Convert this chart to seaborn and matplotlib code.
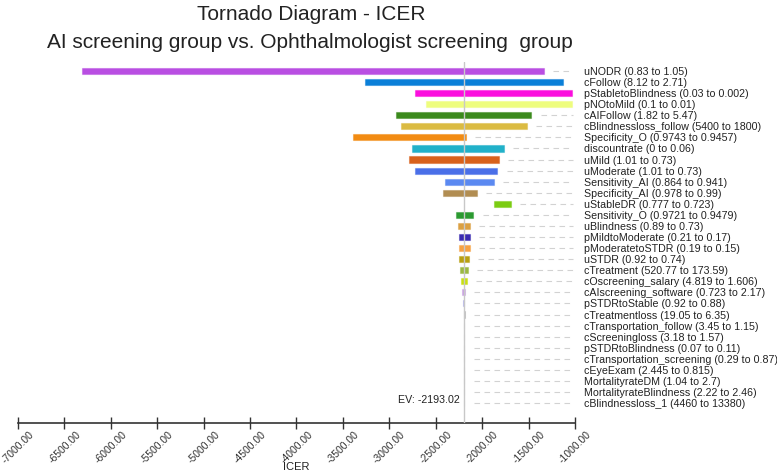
import numpy as np
import pandas as pd
import matplotlib
matplotlib.use('Agg')
import matplotlib.pyplot as plt
import seaborn as sns

# parameters, their ranges and the ICER span each one produces
params = ['uNODR', 'cFollow', 'pStabletoBlindness', 'pNOtoMild', 'cAIFollow',
          'cBlindnessloss_follow', 'Specificity_O', 'discountrate', 'uMild', 'uModerate',
          'Sensitivity_AI', 'Specificity_AI', 'uStableDR', 'Sensitivity_O', 'uBlindness',
          'pMildtoModerate', 'pModeratetoSTDR', 'uSTDR', 'cTreatment', 'cOscreening_salary',
          'cAIscreening_software', 'pSTDRtoStable', 'cTreatmentloss', 'cTransportation_follow',
          'cScreeningloss', 'pSTDRtoBlindness', 'cTransportation_screening', 'cEyeExam',
          'MortalityrateDM', 'MortalityrateBlindness', 'cBlindnessloss_1']
ranges = ['0.83 to 1.05', '8.12 to 2.71', '0.03 to 0.002', '0.1 to 0.01', '1.82 to 5.47',
          '5400 to 1800', '0.9743 to 0.9457', '0 to 0.06', '1.01 to 0.73', '1.01 to 0.73',
          '0.864 to 0.941', '0.978 to 0.99', '0.777 to 0.723', '0.9721 to 0.9479', '0.89 to 0.73',
          '0.21 to 0.17', '0.19 to 0.15', '0.92 to 0.74', '520.77 to 173.59', '4.819 to 1.606',
          '0.723 to 2.17', '0.92 to 0.88', '19.05 to 6.35', '3.45 to 1.15', '3.18 to 1.57',
          '0.07 to 0.11', '0.29 to 0.87', '2.445 to 0.815', '1.04 to 2.7', '2.22 to 2.46',
          '4460 to 13380']
icer_min = [-6311, -3265, -2719, -2605, -2924, -2874, -3394, -2759, -2788, -2723,
            -2396, -2425, -1873, -2278, -2260, -2253, -2250, -2250, -2239, -2232,
            -2213, -2207, -2198, -2194, -2194, -2194, -2194, -2194, -2194, -2194, -2194]
icer_max = [-1338, -1126, -1037, -1037, -1470, -1521, -2174, -1769, -1819, -1836,
            -1876, -2056, -1693, -2095, -2135, -2135, -2135, -2142, -2153, -2164,
            -2185, -2192, -2190, -2192, -2192, -2192, -2192, -2192, -2192, -2192, -2192]
colors = ['#b94ee2', '#0b7fd8', '#fb0ede', '#eefd7e', '#3b8a1c',
          '#dbbb42', '#f28b12', '#21b1c9', '#d8611b', '#4a6fe8',
          '#5b89f1', '#b18d52', '#7bcc12', '#2b9a31', '#dba042',
          '#3a2bb1', '#f7a243', '#b8a012', '#9bb942', '#c9e012',
          '#c9a1e2', '#a9a9e8', '#b0b0b0', '#c0c0c0', '#c0c0c0',
          '#c0c0c0', '#c0c0c0', '#c0c0c0', '#c0c0c0', '#c0c0c0', '#c0c0c0']
ev = -2193.02
xticks = np.arange(-7000, -999, 500)

df = pd.DataFrame({'param': params, 'lo': icer_min, 'hi': icer_max})
df['span'] = df['hi'] - df['lo']

sns.set_theme(style='white')
plt.rcParams['font.family'] = ['Liberation Sans', 'DejaVu Sans']

fig = plt.figure(figsize=(7.77, 4.77), dpi=100)
ax = fig.add_axes([18 / 777, 53 / 477, 557 / 777, 361 / 477])

sns.barplot(data=df, x='span', y='param', hue='param', palette=dict(zip(params, colors)),
            order=params, hue_order=params, width=0.55, legend=False, ax=ax,
            linewidth=0.8, zorder=2)

# move each bar to start at its low ICER value
for p in ax.patches:
    i = int(round(p.get_y() + p.get_height() / 2))
    p.set_x(df['lo'][i])
    c = matplotlib.colors.to_rgba(colors[i])
    p.set_edgecolor((*c[:3], 0.45))
    p.set_facecolor(c)

ax.axvline(ev, color='#c8c8c8', lw=1.0, zorder=3)

for i, (name, rng) in enumerate(zip(params, ranges)):
    start = max(df['hi'][i], ev) + 100
    if start < -1020:
        ax.hlines(i, start, -1020, colors='#d2d2d2', linestyles=(0, (5, 4)), lw=0.8, zorder=1)
    ax.text(-905, i, f'{name} ({rng})', va='center', ha='left', fontsize=7.7,
            color='#222222', clip_on=False)

ax.text(ev - 45, len(params) - 1.4, f'EV: {ev:.2f}', ha='right', va='center',
        fontsize=7.7, color='#222222')

ax.set_xlim(-7000, -1000)
ax.set_ylim(31.8, -0.81)
ax.set_xticks(xticks)
ax.set_xticklabels([f'{v:.2f}' for v in xticks], rotation=45, fontsize=7.5, color='#333333')
ax.set_yticks([])
ax.set_ylabel('')
ax.set_xlabel('')
ax.tick_params(axis='x', direction='inout', length=8, width=1, color='#333333', pad=0,
               bottom=True)
sns.despine(ax=ax, left=True, top=True, right=True)
ax.spines['bottom'].set_color('#333333')
ax.spines['bottom'].set_linewidth(1.2)

fig.text(296 / 777, 1 - 467 / 477, 'ICER', ha='center', va='center', fontsize=8, color='#222222')
fig.text(311 / 777, 1 - 15 / 477, 'Tornado Diagram - ICER', ha='center', va='center',
         fontsize=15, color='#222222')
fig.text(310 / 777, 1 - 43 / 477, 'AI screening group vs. Ophthalmologist screening  group',
         ha='center', va='center', fontsize=15, color='#222222')

fig.savefig('out.png', dpi=100)
